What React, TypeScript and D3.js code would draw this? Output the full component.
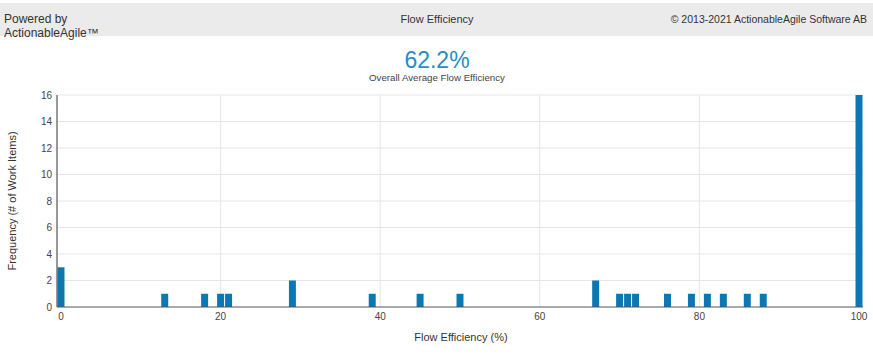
import { scaleLinear } from "d3";

const BIN_VALUES = [0, 13, 18, 20, 21, 29, 39, 45, 50, 67, 70, 71, 72, 76, 79, 81, 83, 86, 88, 100];
const BIN_COUNTS = [3, 1, 1, 1, 1, 2, 1, 1, 1, 2, 1, 1, 1, 1, 1, 1, 1, 1, 1, 16];
const X_TICKS = [0, 20, 40, 60, 80, 100];
const Y_TICKS = [0, 2, 4, 6, 8, 10, 12, 14, 16];

const WIDTH = 873;
const HEIGHT = 354;
const PLOT = { left: 57, right: 863, top: 95, bottom: 307 };
const FONT = "'Liberation Sans', Arial, sans-serif";
const BAR_COLOR = "#0b78b4";

export default function App() {
  const x = scaleLinear().domain([-0.5, 100.5]).range([PLOT.left, PLOT.right]);
  const y = scaleLinear().domain([0, 16]).range([PLOT.bottom, PLOT.top]);
  const step = x(1) - x(0);

  return (
    <svg
      width={WIDTH}
      height={HEIGHT}
      style={{ position: "fixed", top: 0, left: 0, background: "#fff", fontFamily: FONT }}
    >
      {/* header band */}
      <rect x={0} y={3} width={WIDTH} height={33} fill="#ebebeb" />
      <text x={4} y={23} fontSize={12} fill="#333">Powered by</text>
      <text x={4} y={37} fontSize={12} fill="#333">ActionableAgile™</text>
      <text x={437} y={23} fontSize={11} fill="#333" textAnchor="middle">Flow Efficiency</text>
      <text x={867} y={23} fontSize={10.5} fill="#333" textAnchor="end">
        © 2013-2021 ActionableAgile Software AB
      </text>

      {/* summary */}
      <text x={437} y={68} fontSize={23} fill="#2b8cc4" textAnchor="middle">62.2%</text>
      <text x={437} y={81} fontSize={9.7} fill="#444" textAnchor="middle">
        Overall Average Flow Efficiency
      </text>

      {/* grid */}
      {Y_TICKS.filter((t) => t > 0).map((t) => (
        <line key={`gy${t}`} x1={PLOT.left} x2={PLOT.right} y1={y(t)} y2={y(t)} stroke="#e6e6e6" />
      ))}
      {X_TICKS.filter((t) => t > 0 && t < 100).map((t) => (
        <line key={`gx${t}`} x1={x(t)} x2={x(t)} y1={PLOT.top} y2={PLOT.bottom} stroke="#e6e6e6" />
      ))}

      {/* bars */}
      {BIN_VALUES.map((v, i) => (
        <rect
          key={v}
          x={x(v - 0.5) + 0.5}
          width={step - 1}
          y={y(BIN_COUNTS[i])}
          height={y(0) - y(BIN_COUNTS[i])}
          fill={BAR_COLOR}
        />
      ))}

      {/* axes */}
      <line x1={PLOT.left} x2={PLOT.left} y1={PLOT.top} y2={PLOT.bottom} stroke="#555" strokeWidth={1.2} />
      <line x1={PLOT.left} x2={PLOT.right} y1={PLOT.bottom} y2={PLOT.bottom} stroke="#555" strokeWidth={1.2} />
      {Y_TICKS.map((t) => (
        <text key={`ty${t}`} x={52} y={y(t) + 3.5} fontSize={10} fill="#444" textAnchor="end">
          {t}
        </text>
      ))}
      {X_TICKS.map((t) => (
        <text key={`tx${t}`} x={x(t)} y={320} fontSize={10} fill="#444" textAnchor="middle">
          {t}
        </text>
      ))}
      <text x={461} y={341} fontSize={11} fill="#333" textAnchor="middle">Flow Efficiency (%)</text>
      <text
        transform={`translate(16,${(PLOT.top + PLOT.bottom) / 2}) rotate(-90)`}
        fontSize={11}
        fill="#333"
        textAnchor="middle"
      >
        Frequency (# of Work Items)
      </text>
    </svg>
  );
}
